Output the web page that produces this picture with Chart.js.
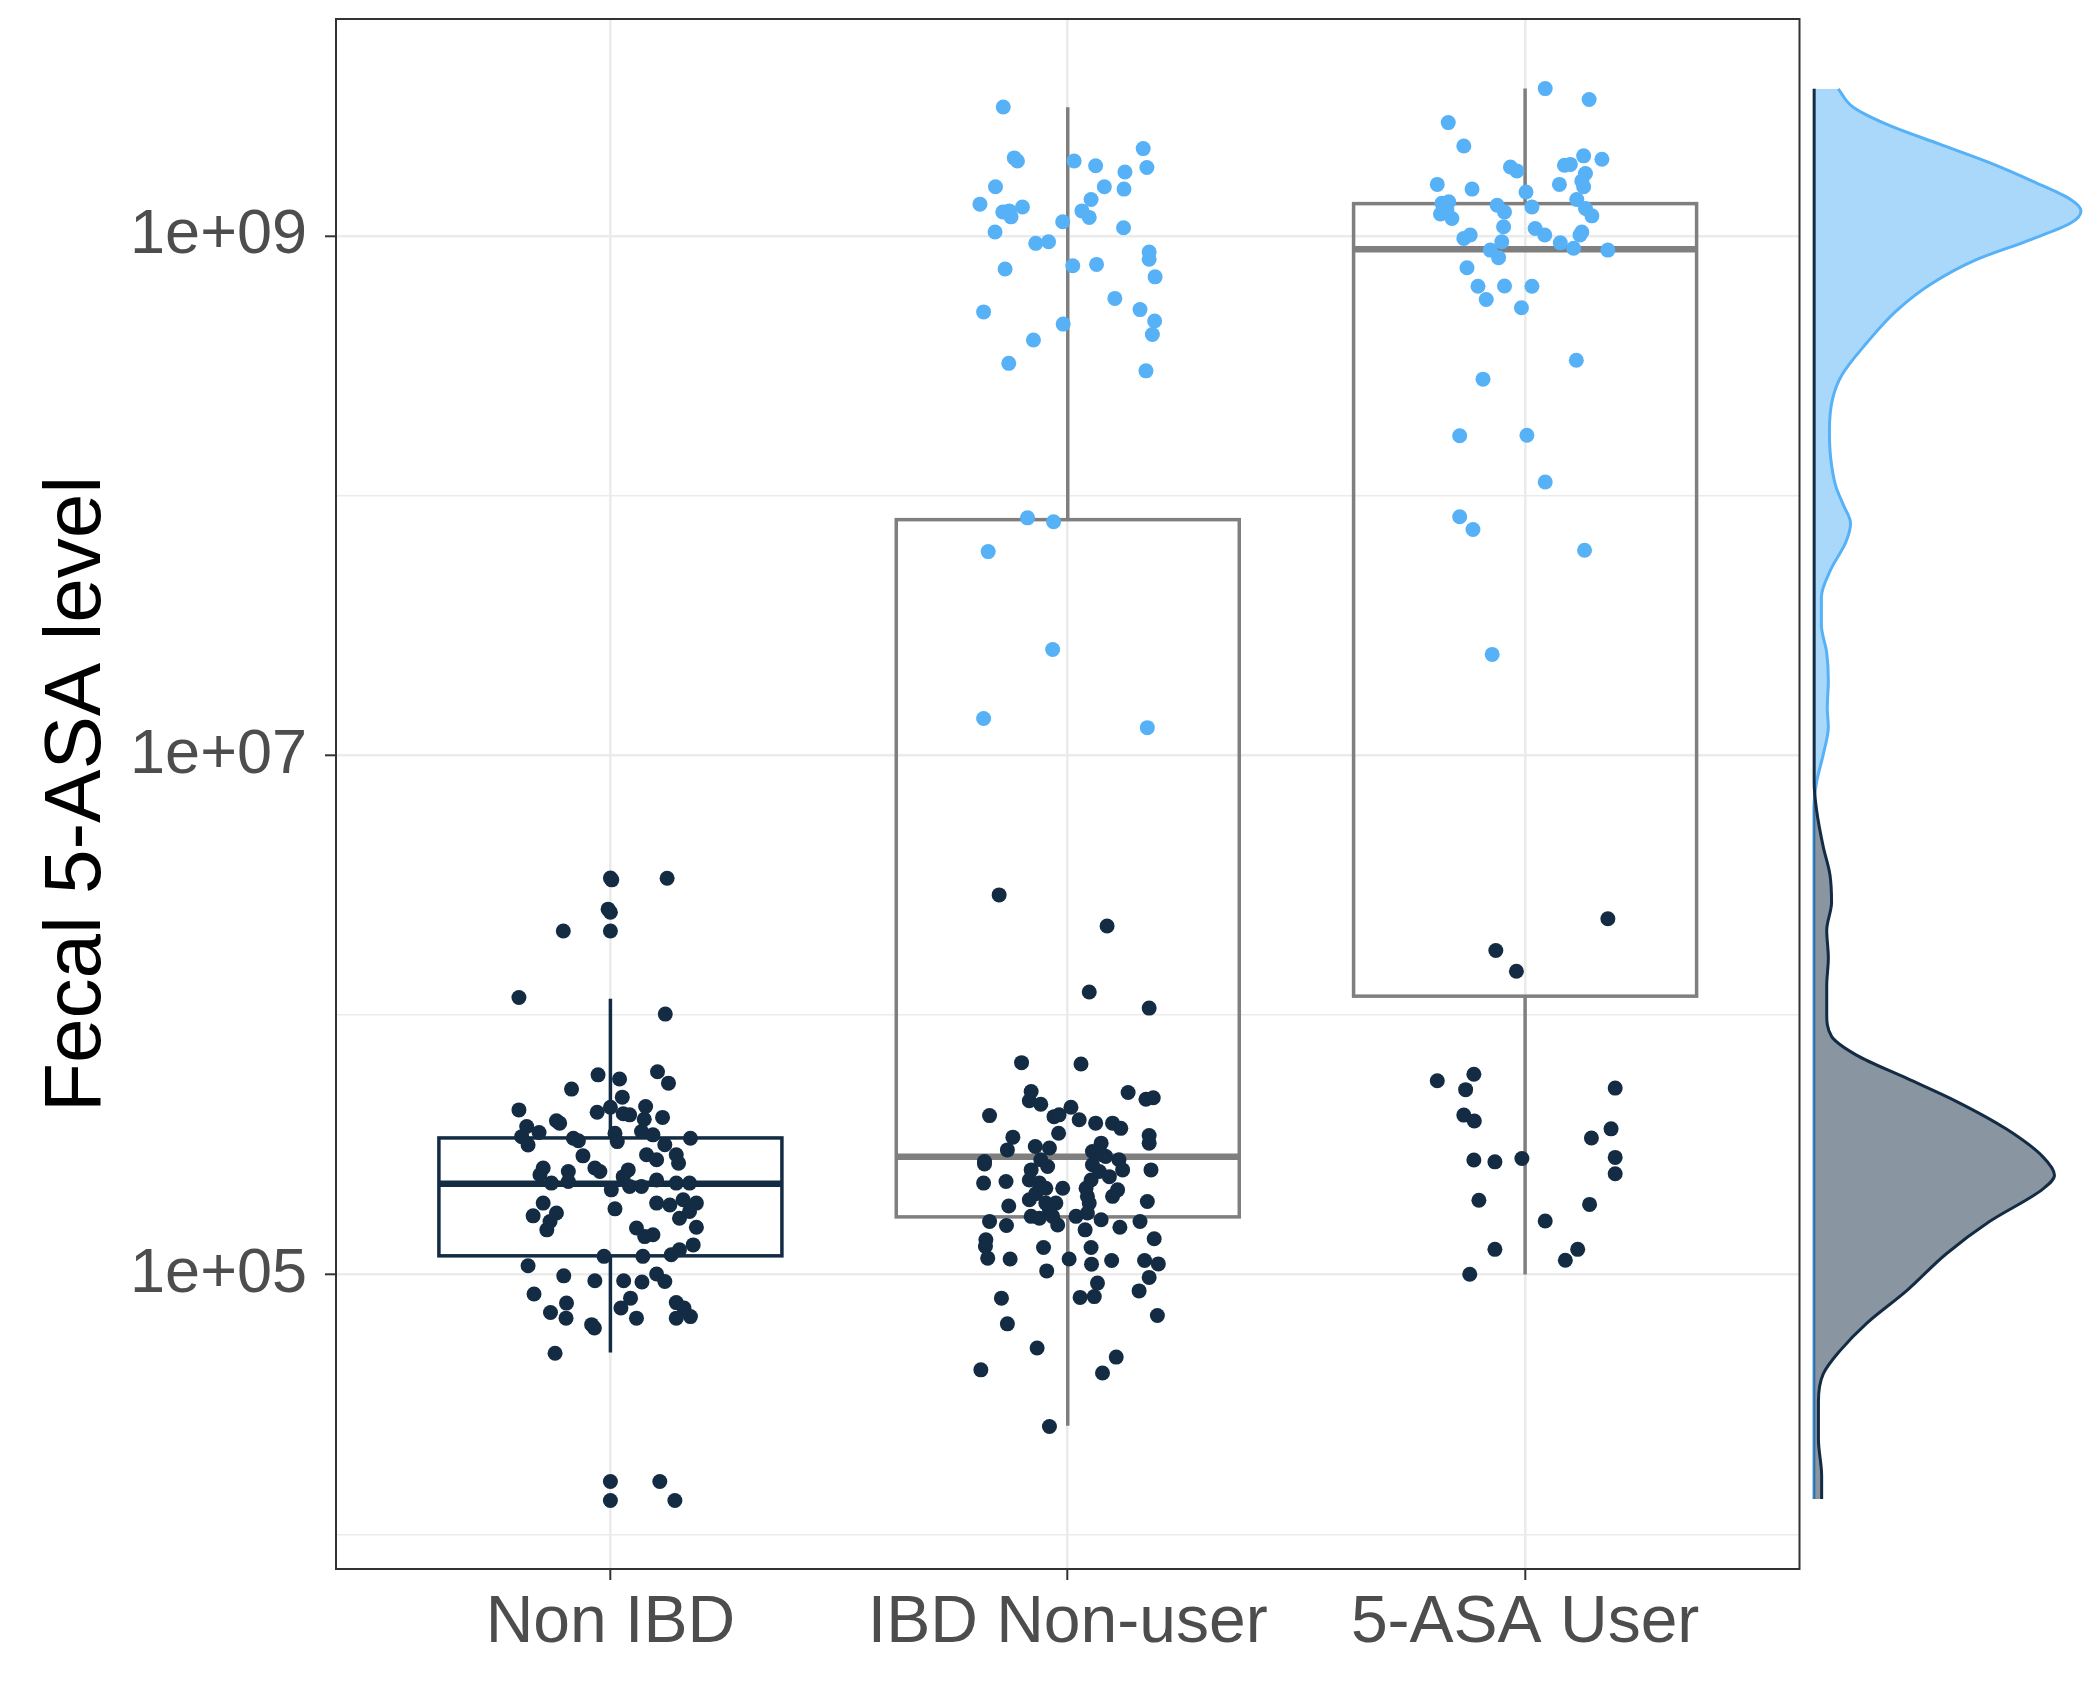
<!DOCTYPE html>
<html>
<head>
<meta charset="utf-8">
<script src="https://cdn.jsdelivr.net/npm/chart.js@4.4.1/dist/chart.umd.min.js"></script>
<style>
html, body { margin: 0; padding: 0; background: #fff; }
#wrap { position: relative; width: 2100px; height: 1683px; }
#main { position: absolute; left: 0; top: 0; width: 1807px; height: 1683px; }
#dens { position: absolute; left: 1800px; top: 0; width: 300px; height: 1683px; }
</style>
</head>
<body>
<div id="wrap">
  <canvas id="main" width="1807" height="1683"></canvas>
  <canvas id="dens" width="300" height="1683"></canvas>
</div>
<script>
// values are log10 of the fecal 5-ASA level
const groups = ['Non IBD', 'IBD Non-user', '5-ASA User'];
const yTickValues = [5, 7, 9];
const yTickLabels = ['1e+05', '1e+07', '1e+09'];
const yGridValues = [4, 5, 6, 7, 8, 9];
const yMin = 3.866;
const yMax = 9.835;

// box stats per group
const whiskerLow  = [4.700, 4.418, 5.000];
const boxQ1       = [5.072, 5.222, 6.072];
const boxMedian   = [5.350, 5.454, 8.948];
const boxQ3       = [5.526, 7.907, 9.124];
const whiskerHigh = [6.062, 9.495, 9.567];

// points: [jitter offset from group centre, log10 level]
const nonIbdPoints = [
  [0.000,6.527],[0.003,6.520],[0.124,6.526],[-0.005,6.407],[0.000,6.395],[-0.103,6.323],[0.000,6.323],
  [-0.200,6.067],[0.120,6.003],[-0.027,5.769],[0.020,5.753],[0.103,5.781],[0.127,5.737],[-0.085,5.714],
  [0.026,5.683],[-0.200,5.634],[-0.029,5.625],[0.000,5.644],[0.028,5.619],[0.042,5.615],[0.077,5.647],
  [0.074,5.598],[0.114,5.605],[-0.183,5.570],[-0.194,5.531],[-0.156,5.547],[-0.180,5.499],[-0.118,5.592],
  [-0.111,5.583],[-0.081,5.525],[-0.070,5.515],[0.010,5.544],[0.015,5.512],[0.068,5.551],[0.093,5.538],
  [0.119,5.500],[0.175,5.525],[-0.060,5.457],[0.079,5.461],[0.101,5.442],[0.144,5.461],[0.149,5.429],
  [-0.147,5.410],[-0.154,5.384],[-0.092,5.397],[-0.092,5.358],[-0.034,5.410],[-0.023,5.397],[0.039,5.403],
  [0.028,5.377],[-0.129,5.352],[0.002,5.326],[0.042,5.339],[0.068,5.339],[0.101,5.364],[0.144,5.352],
  [0.173,5.352],[-0.147,5.275],[-0.169,5.226],[-0.118,5.237],[-0.139,5.172],[-0.132,5.204],[0.010,5.253],
  [0.101,5.275],[0.130,5.268],[0.159,5.288],[0.188,5.275],[0.151,5.217],[0.173,5.243],[0.057,5.179],
  [0.075,5.146],[0.093,5.153],[0.188,5.182],[0.071,5.070],[0.133,5.076],[0.151,5.095],[0.181,5.114],
  [-0.180,5.034],[-0.014,5.070],[-0.102,4.995],[-0.034,4.976],[0.029,4.976],[0.069,4.971],[0.101,5.002],
  [0.119,4.973],[-0.167,4.925],[-0.096,4.890],[-0.131,4.854],[-0.097,4.832],[0.044,4.909],[0.023,4.871],
  [0.057,4.832],[-0.041,4.807],[-0.035,4.794],[0.144,4.892],[0.161,4.871],[0.144,4.832],[0.175,4.838],
  [-0.121,4.697],[0.000,4.203],[0.000,4.130],[0.108,4.203],[0.141,4.130]
];

const ibdPoints = [
  [-0.141,9.496],[-0.117,9.300],[-0.110,9.288],[0.014,9.288],[0.061,9.270],[0.125,9.246],[0.165,9.336],
  [0.173,9.263],[-0.158,9.189],[0.080,9.189],[0.123,9.180],[-0.192,9.122],[-0.142,9.092],[-0.128,9.096],
  [-0.124,9.073],[-0.099,9.111],[0.051,9.140],[0.031,9.096],[0.047,9.071],[-0.011,9.054],[-0.159,9.015],
  [0.122,9.031],[-0.070,8.971],[-0.042,8.977],[0.178,8.938],[0.178,8.910],[0.191,8.842],[-0.137,8.872],
  [0.011,8.885],[0.063,8.890],[0.103,8.759],[0.158,8.716],[0.190,8.672],[0.185,8.620],[-0.184,8.707],
  [-0.010,8.660],[-0.075,8.599],[-0.129,8.509],[0.171,8.480],
  [-0.088,7.914],[-0.031,7.899],[-0.174,7.784],[-0.033,7.407],[-0.184,7.141],[0.174,7.106],
  [-0.150,6.462],[0.086,6.342],[0.047,6.088],[0.178,6.026],
  [-0.101,5.816],[0.029,5.811],[-0.080,5.705],[-0.084,5.669],[-0.059,5.656],[0.132,5.701],[0.171,5.675],
  [0.187,5.681],[-0.171,5.612],[-0.030,5.608],[-0.019,5.615],[0.007,5.644],[0.025,5.596],[0.061,5.583],
  [0.098,5.583],[0.116,5.563],[-0.020,5.544],[0.178,5.535],[0.178,5.506],[-0.120,5.529],[-0.132,5.480],
  [-0.071,5.493],[-0.040,5.487],[0.073,5.506],[0.054,5.474],[0.076,5.461],[-0.182,5.435],[-0.182,5.426],
  [-0.059,5.442],[-0.044,5.416],[-0.080,5.403],[-0.084,5.364],[0.054,5.423],[0.069,5.397],[0.112,5.442],
  [0.120,5.403],[0.091,5.377],[0.083,5.455],[0.182,5.403],[-0.184,5.352],[-0.135,5.358],[-0.062,5.352],
  [-0.048,5.332],[-0.011,5.332],[0.040,5.332],[0.051,5.364],[0.098,5.301],[0.109,5.326],[-0.084,5.288],
  [-0.070,5.311],[0.043,5.301],[0.047,5.275],[0.174,5.281],[-0.129,5.264],[-0.048,5.275],[-0.026,5.275],
  [-0.040,5.249],[-0.080,5.224],[-0.062,5.217],[-0.033,5.224],[-0.022,5.191],[0.018,5.224],[0.038,5.172],
  [0.043,5.237],[0.073,5.211],[0.114,5.182],[0.158,5.204],[-0.171,5.204],[-0.179,5.134],[-0.180,5.108],
  [-0.175,5.063],[-0.134,5.189],[0.189,5.138],[-0.053,5.104],[0.051,5.104],[-0.126,5.060],[0.003,5.060],
  [0.052,5.040],[0.096,5.054],[0.168,5.054],[0.198,5.041],[-0.046,5.014],[0.178,4.989],[0.065,4.967],
  [0.058,4.915],[0.027,4.912],[0.156,4.937],[-0.145,4.909],[0.196,4.842],[-0.132,4.810],[-0.067,4.717],
  [0.106,4.682],[0.076,4.621],[-0.190,4.633],[-0.040,4.415]
];

const asaPoints = [
  [0.044,9.567],[0.140,9.525],[-0.168,9.436],[-0.134,9.346],[-0.032,9.265],[-0.018,9.250],[0.128,9.308],
  [0.168,9.295],[0.086,9.272],[0.099,9.275],[0.132,9.240],[0.124,9.211],[0.128,9.189],[0.075,9.198],
  [-0.192,9.198],[-0.116,9.180],[0.002,9.169],[0.113,9.140],[-0.182,9.125],[-0.167,9.131],[-0.185,9.084],
  [-0.160,9.067],[-0.171,9.099],[-0.061,9.118],[-0.045,9.092],[0.015,9.111],[0.132,9.105],[0.146,9.077],
  [-0.047,9.035],[-0.051,8.977],[0.022,9.028],[0.043,9.003],[-0.134,8.990],[-0.120,9.003],[0.124,9.015],
  [0.120,9.003],[0.077,8.973],[0.106,8.952],[0.181,8.945],[-0.076,8.945],[-0.058,8.916],[-0.127,8.877],
  [-0.103,8.806],[-0.085,8.755],[-0.045,8.807],[0.015,8.806],[-0.008,8.723],[0.112,8.521],[-0.092,8.448],
  [-0.143,8.230],[0.004,8.232],[0.044,8.052],[-0.143,7.918],[-0.114,7.869],[0.130,7.789],[-0.072,7.388],
  [0.181,6.370],[-0.064,6.248],[-0.019,6.168],[-0.192,5.746],[-0.112,5.771],[-0.130,5.712],[-0.134,5.614],
  [-0.111,5.591],[-0.112,5.441],[-0.066,5.434],[-0.007,5.447],[-0.101,5.286],[-0.066,5.097],[-0.121,5.001],
  [0.197,5.718],[0.188,5.561],[0.145,5.526],[0.197,5.451],[0.197,5.388],[0.141,5.270],[0.044,5.206],
  [0.115,5.097],[0.088,5.055]
];

// marginal densities (relative height) sampled at these log10 levels
const densityLevels = [
  9.566,9.495,9.424,9.353,9.282,9.210,9.139,9.096,9.050,8.979,8.908,8.819,8.712,8.587,8.463,8.373,
  8.249,8.142,8.035,7.964,7.893,7.822,7.715,7.608,7.501,7.394,7.287,7.181,7.109,7.003,6.896,6.789,
  6.647,6.540,6.433,6.326,6.219,6.112,6.006,5.917,5.845,5.756,5.667,5.561,5.454,5.382,5.329,5.204,
  5.080,4.937,4.812,4.706,4.617,4.510,4.367,4.225,4.136
];
const highDensity = [
  0.093,0.149,0.286,0.472,0.658,0.820,0.963,1.000,0.963,0.795,0.609,0.447,0.311,0.199,0.106,0.072,
  0.060,0.065,0.084,0.112,0.139,0.122,0.065,0.030,0.030,0.050,0.056,0.052,0.056,0.037,0.012,0.002,
  0.002,0.002,0.002,0.002,0.002,0.002,0.002,0.002,0.002,0.002,0.002,0.002,0.002,0.002,0.002,0.002,
  0.002,0.002,0.002,0.002,0.002,0.002,0.002,0.002,0.002
];
const lowDensity = [
  0.003,0.003,0.003,0.003,0.003,0.003,0.003,0.003,0.003,0.003,0.003,0.003,0.003,0.003,0.003,0.003,
  0.003,0.003,0.003,0.003,0.003,0.003,0.003,0.003,0.003,0.003,0.003,0.003,0.003,0.003,0.003,0.012,
  0.037,0.062,0.068,0.050,0.056,0.050,0.050,0.068,0.161,0.348,0.534,0.720,0.857,0.901,0.857,0.658,
  0.497,0.348,0.199,0.099,0.037,0.019,0.019,0.031,0.031
];

const darkCol = '#132B43';
const blueCol = '#56B1F7';
const colourCut = 6.8;
const boxLineCols = [darkCol, '#7F7F7F', '#7F7F7F'];
const boxHalf = 0.375;
const fontFam = '"Liberation Sans", Arial, Helvetica, sans-serif';

function jitterSet(points, idx) {
  return {
    data: points.map(p => ({x: idx + 1 + p[0], y: p[1]})),
    pointBackgroundColor: points.map(p => p[1] > colourCut ? blueCol : darkCol),
    pointBorderWidth: 0,
    pointRadius: 7.5,
    showLine: false
  };
}

const boxPlugin = {
  id: 'boxes',
  beforeDatasetsDraw(chart) {
    const ctx = chart.ctx;
    const x = chart.scales.x, y = chart.scales.y;
    ctx.save();
    for (let i = 0; i < groups.length; i++) {
      const c = i + 1;
      const l = x.getPixelForValue(c - boxHalf);
      const r = x.getPixelForValue(c + boxHalf);
      const m = x.getPixelForValue(c);
      ctx.strokeStyle = boxLineCols[i];
      ctx.lineWidth = 3.5;
      ctx.beginPath();
      ctx.moveTo(m, y.getPixelForValue(whiskerHigh[i]));
      ctx.lineTo(m, y.getPixelForValue(boxQ3[i]));
      ctx.moveTo(m, y.getPixelForValue(boxQ1[i]));
      ctx.lineTo(m, y.getPixelForValue(whiskerLow[i]));
      ctx.stroke();
      const top = y.getPixelForValue(boxQ3[i]);
      const bot = y.getPixelForValue(boxQ1[i]);
      ctx.strokeRect(l, top, r - l, bot - top);
      ctx.lineWidth = 6.5;
      ctx.beginPath();
      const med = y.getPixelForValue(boxMedian[i]);
      ctx.moveTo(l, med);
      ctx.lineTo(r, med);
      ctx.stroke();
    }
    ctx.restore();
  }
};

const framePlugin = {
  id: 'frame',
  afterDatasetsDraw(chart) {
    const a = chart.chartArea;
    const ctx = chart.ctx;
    ctx.save();
    ctx.strokeStyle = '#333333';
    ctx.lineWidth = 2;
    ctx.strokeRect(a.left, a.top, a.right - a.left, a.bottom - a.top);
    ctx.restore();
  }
};

new Chart(document.getElementById('main'), {
  type: 'scatter',
  data: {
    datasets: [
      jitterSet(nonIbdPoints, 0),
      jitterSet(ibdPoints, 1),
      jitterSet(asaPoints, 2)
    ]
  },
  options: {
    responsive: false,
    animation: false,
    layout: {padding: {top: 19, right: 2, left: 0, bottom: 0}},
    plugins: {legend: {display: false}, tooltip: {enabled: false}},
    scales: {
      x: {
        type: 'linear',
        min: 0.4,
        max: 3.6,
        afterBuildTicks: s => { s.ticks = groups.map((g, i) => ({value: i + 1})); },
        afterFit: s => { s.height = 114; s.paddingLeft = 0; s.paddingRight = 0; },
        ticks: {
          callback: v => groups[v - 1],
          color: '#4D4D4D',
          font: {family: fontFam, size: 66},
          padding: 4,
          maxRotation: 0,
          autoSkip: false
        },
        grid: {color: '#EBEBEB', lineWidth: 2.6, tickColor: '#333333', tickLength: 11, tickWidth: 2},
        border: {display: false}
      },
      y: {
        type: 'linear',
        min: yMin,
        max: yMax,
        afterBuildTicks: s => { s.ticks = yGridValues.map(v => ({value: v})); },
        afterFit: s => { s.width = 336; s.paddingTop = 0; s.paddingBottom = 0; },
        ticks: {
          callback: v => {
            const k = yTickValues.indexOf(v);
            return k >= 0 ? yTickLabels[k] : '';
          },
          color: '#4D4D4D',
          font: {family: fontFam, size: 63},
          padding: 18,
          autoSkip: false
        },
        grid: {
          color: '#EBEBEB',
          lineWidth: c => yTickValues.includes(c.tick.value) ? 2.6 : 1.4,
          tickColor: c => yTickValues.includes(c.tick.value) ? '#333333' : 'rgba(0,0,0,0)',
          tickLength: 11,
          tickWidth: 2
        },
        border: {display: false},
        title: {
          display: true,
          text: 'Fecal 5-ASA level',
          color: '#000000',
          font: {family: fontFam, size: 80},
          padding: {top: 30, bottom: 0}
        }
      }
    }
  },
  plugins: [boxPlugin, framePlugin]
});

new Chart(document.getElementById('dens'), {
  type: 'line',
  data: {
    datasets: [
      {
        data: densityLevels.map((v, k) => ({x: lowDensity[k], y: v})),
        borderColor: darkCol,
        backgroundColor: 'rgba(19,43,67,0.5)',
        borderWidth: 3,
        fill: 'origin',
        pointRadius: 0,
        cubicInterpolationMode: 'monotone'
      },
      {
        data: densityLevels.map((v, k) => ({x: highDensity[k], y: v})),
        borderColor: blueCol,
        backgroundColor: 'rgba(86,177,247,0.5)',
        borderWidth: 3,
        fill: 'origin',
        pointRadius: 0,
        cubicInterpolationMode: 'monotone'
      }
    ]
  },
  options: {
    indexAxis: 'y',
    responsive: false,
    animation: false,
    layout: {padding: {left: 8, right: 11, top: 19, bottom: 114}},
    plugins: {legend: {display: false}, tooltip: {enabled: false}},
    scales: {
      x: {type: 'linear', min: -0.02, max: 1.03, display: false},
      y: {type: 'linear', min: yMin, max: yMax, display: false}
    }
  }
});
</script>
</body>
</html>
